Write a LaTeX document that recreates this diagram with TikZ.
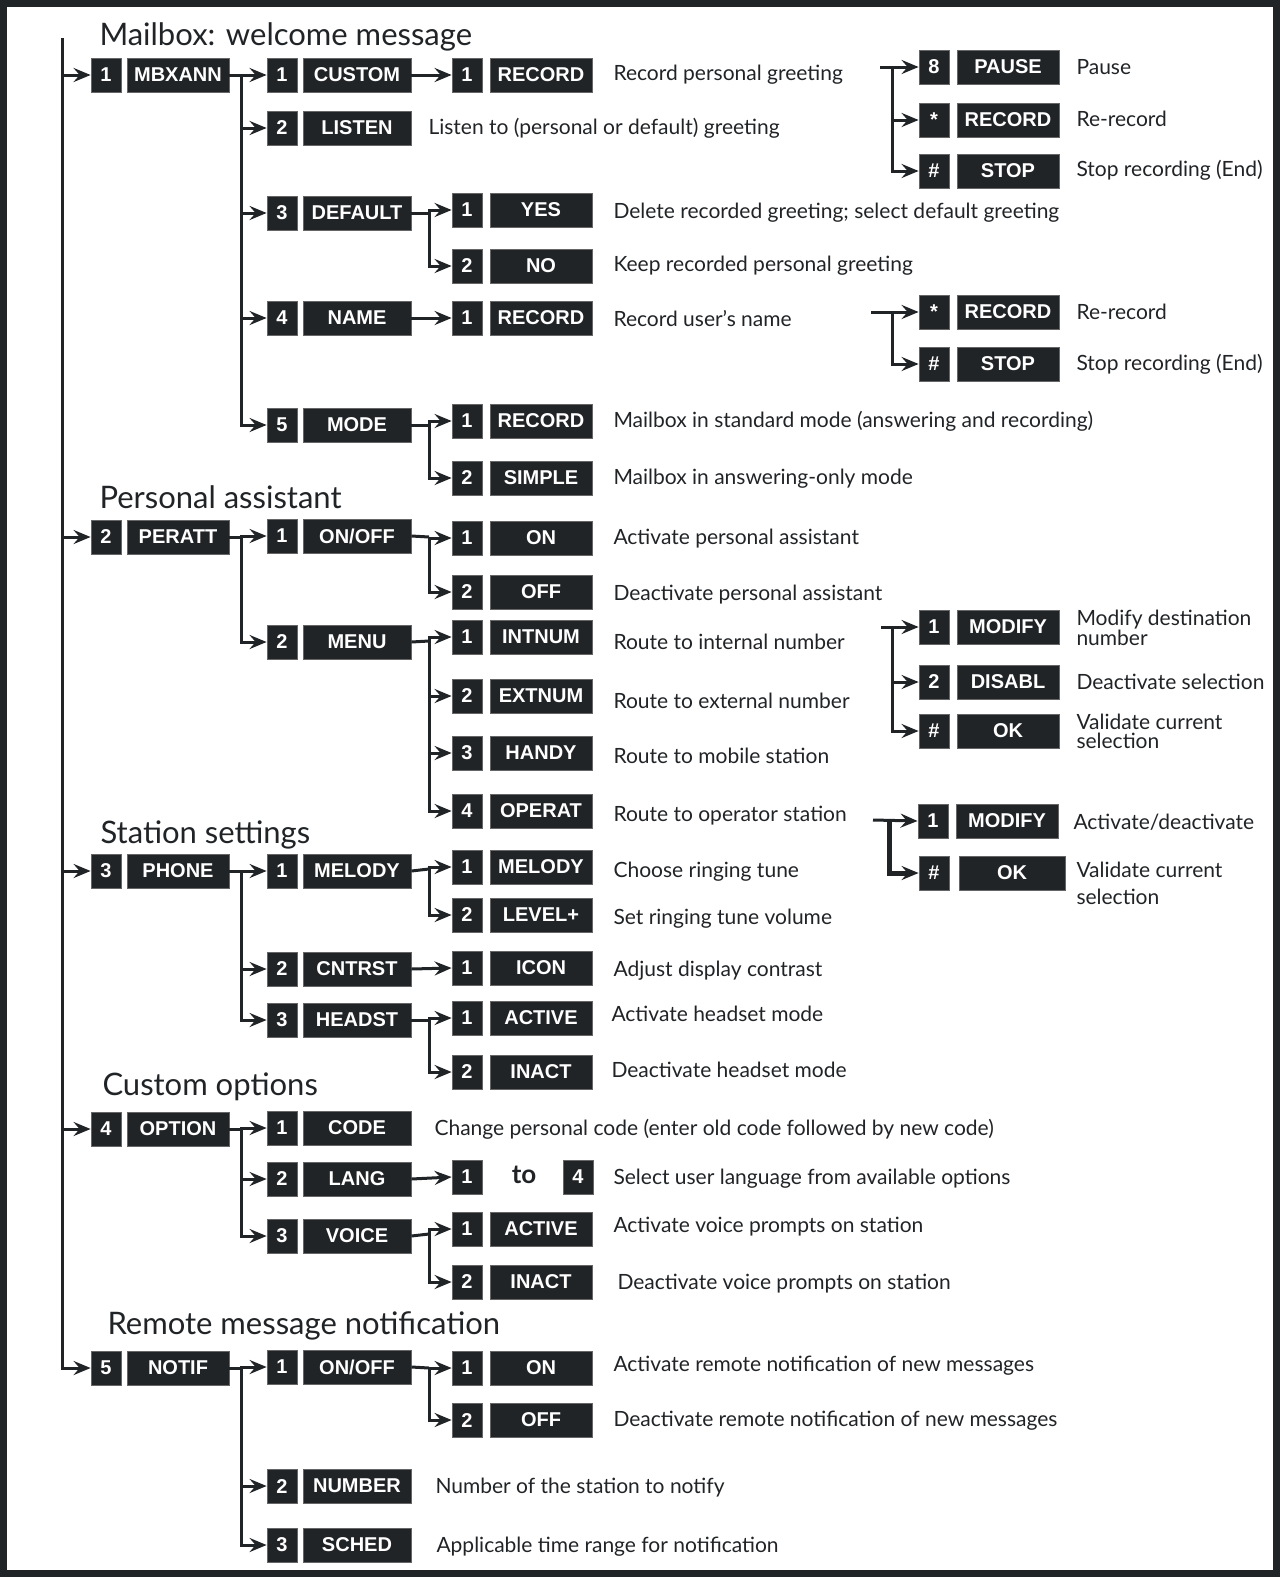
\documentclass[tikz,border=0pt]{standalone}
\usepackage{fontspec}
\setmainfont{Lato}
\newfontfamily\keyfont{Liberation Sans}
\usetikzlibrary{arrows.meta}
\definecolor{ink}{HTML}{212427}

\begin{document}
\begin{tikzpicture}[x=1pt, y=-1pt, line width=3pt, color=ink,
  >={Stealth[length=17pt,width=14pt,inset=6pt]},
  numbox/.style={fill=ink, draw=gray!80!black, line width=0.8pt, text=white,
    minimum width=30pt, minimum height=34pt, inner sep=0pt,
    font=\keyfont\bfseries\fontsize{20}{20}\selectfont},
  keybox/.style={numbox, minimum width=#1},
  keybox/.default=102pt,
  desc/.style={anchor=west, inner sep=0pt, align=left,
    font=\fontsize{21}{21}\selectfont},
  heading/.style={anchor=base west, inner sep=0pt,
    font=\fontsize{31}{31}\selectfont}]
  \useasboundingbox (0,0) rectangle (1280,1577);
  \fill[white] (0,0) rectangle (1280,1577);
  \draw[line width=7pt] (3.5,3.5) rectangle (1276.5,1573.5);

  % Headings
  \node[heading] (T1) at (98,45) {Mailbox: welcome message};
  \node[heading] (T2) at (98,508) {Personal assistant};
  \node[heading] (T3) at (99,843) {Station settings};
  \node[heading] (T4) at (101,1095) {Custom options};
  \node[heading] (T5) at (106,1334) {Remote message notification};

  % Nodes: Mailbox
  \node[numbox] (N1) at (106,75) {1};
  \node[keybox] (K1) at (178,75) {MBXANN};
  \node[numbox] (N11) at (282,75) {1};
  \node[keybox=108pt] (K11) at (357,75) {CUSTOM};
  \node[numbox] (N111) at (467,75) {1};
  \node[keybox] (K111) at (541,75) {RECORD};
  \node[numbox] (N12) at (282,128) {2};
  \node[keybox=108pt] (K12) at (357,128) {LISTEN};
  \node[numbox] (N13) at (282,213) {3};
  \node[keybox=108pt] (K13) at (357,213) {DEFAULT};
  \node[numbox] (N131) at (467,210) {1};
  \node[keybox] (K131) at (541,210) {YES};
  \node[numbox] (N132) at (467,266) {2};
  \node[keybox] (K132) at (541,266) {NO};
  \node[numbox] (N14) at (282,318) {4};
  \node[keybox=108pt] (K14) at (357,318) {NAME};
  \node[numbox] (N141) at (467,318) {1};
  \node[keybox] (K141) at (541,318) {RECORD};
  \node[numbox] (N15) at (282,425) {5};
  \node[keybox=108pt] (K15) at (357,425) {MODE};
  \node[numbox] (N151) at (467,421) {1};
  \node[keybox] (K151) at (541,421) {RECORD};
  \node[numbox] (N152) at (467,478) {2};
  \node[keybox] (K152) at (541,478) {SIMPLE};

  \node[numbox] (NA1) at (934,67) {8};
  \node[keybox] (KA1) at (1008,67) {PAUSE};
  \node[numbox] (NA2) at (934,120) {*};
  \node[keybox] (KA2) at (1008,120) {RECORD};
  \node[numbox] (NA3) at (934,171) {\#};
  \node[keybox] (KA3) at (1008,171) {STOP};
  \node[numbox] (NB1) at (934,312) {*};
  \node[keybox] (KB1) at (1008,312) {RECORD};
  \node[numbox] (NB2) at (934,364) {\#};
  \node[keybox] (KB2) at (1008,364) {STOP};

  \node[desc] (D111) at (612,75) {Record personal greeting};
  \node[desc] (D12) at (427,128) {Listen to (personal or default) greeting};
  \node[desc] (D131) at (612,213) {Delete recorded greeting; select default greeting};
  \node[desc] (D132) at (612,266) {Keep recorded personal greeting};
  \node[desc] (D141) at (612,319) {Record user's name};
  \node[desc] (D151) at (612,421) {Mailbox in standard mode (answering and recording)};
  \node[desc] (D152) at (612,479) {Mailbox in answering-only mode};
  \node[desc] (DA1) at (1075,67) {Pause};
  \node[desc] (DA2) at (1075,119) {Re-record};
  \node[desc] (DA3) at (1075,170) {Stop recording (End)};
  \node[desc] (DB1) at (1075,312) {Re-record};
  \node[desc] (DB2) at (1075,364) {Stop recording (End)};

  % Nodes: Personal assistant
  \node[numbox] (N2) at (106,537) {2};
  \node[keybox] (K2) at (178,537) {PERATT};
  \node[numbox] (N21) at (282,536) {1};
  \node[keybox=108pt] (K21) at (357,536) {ON/OFF};
  \node[numbox] (N211) at (467,538) {1};
  \node[keybox] (K211) at (541,538) {ON};
  \node[numbox] (N212) at (467,592) {2};
  \node[keybox] (K212) at (541,592) {OFF};
  \node[numbox] (N22) at (282,642) {2};
  \node[keybox=108pt] (K22) at (357,642) {MENU};
  \node[numbox] (N221) at (467,637) {1};
  \node[keybox] (K221) at (541,637) {INTNUM};
  \node[numbox] (N222) at (467,696) {2};
  \node[keybox] (K222) at (541,696) {EXTNUM};
  \node[numbox] (N223) at (467,753) {3};
  \node[keybox] (K223) at (541,753) {HANDY};
  \node[numbox] (N224) at (467,811) {4};
  \node[keybox] (K224) at (541,811) {OPERAT};

  \node[numbox] (NC1) at (934,627) {1};
  \node[keybox] (KC1) at (1008,627) {MODIFY};
  \node[numbox] (NC2) at (934,682) {2};
  \node[keybox] (KC2) at (1008,682) {DISABL};
  \node[numbox] (NC3) at (934,731) {\#};
  \node[keybox] (KC3) at (1008,731) {OK};
  \node[numbox] (ND1) at (933,821) {1};
  \node[keybox] (KD1) at (1007,821) {MODIFY};
  \node[numbox] (ND2) at (934,873) {\#};
  \node[keybox=106pt] (KD2) at (1012,873) {OK};

  \node[desc] (D211) at (612,539) {Activate personal assistant};
  \node[desc] (D212) at (612,595) {Deactivate personal assistant};
  \node[desc] (D221) at (612,642) {Route to internal number};
  \node[desc] (D222) at (612,701) {Route to external number};
  \node[desc] (D223) at (612,756) {Route to mobile station};
  \node[desc] (D224) at (612,816) {Route to operator station};
  \node[desc,font=\fontsize{21}{19}\selectfont] (DC1) at (1075,628) {Modify destination\\number};
  \node[desc] (DC2) at (1075,682) {Deactivate selection};
  \node[desc,font=\fontsize{21}{19}\selectfont] (DC3) at (1075,731) {Validate current\\selection};
  \node[desc] (DD1) at (1072,822) {Activate/deactivate};
  \node[desc,font=\fontsize{21}{27}\selectfont] (DD2) at (1075,883) {Validate current\\selection};

  % Nodes: Station settings
  \node[numbox] (N3) at (106,871) {3};
  \node[keybox] (K3) at (178,871) {PHONE};
  \node[numbox] (N31) at (282,871) {1};
  \node[keybox=108pt] (K31) at (357,871) {MELODY};
  \node[numbox] (N311) at (467,867) {1};
  \node[keybox] (K311) at (541,867) {MELODY};
  \node[numbox] (N312) at (467,915) {2};
  \node[keybox] (K312) at (541,915) {LEVEL+};
  \node[numbox] (N32) at (282,969) {2};
  \node[keybox=108pt] (K32) at (357,969) {CNTRST};
  \node[numbox] (N321) at (467,968) {1};
  \node[keybox] (K321) at (541,968) {ICON};
  \node[numbox] (N33) at (282,1020) {3};
  \node[keybox=108pt] (K33) at (357,1020) {HEADST};
  \node[numbox] (N331) at (467,1018) {1};
  \node[keybox] (K331) at (541,1018) {ACTIVE};
  \node[numbox] (N332) at (467,1072) {2};
  \node[keybox] (K332) at (541,1072) {INACT};

  \node[desc] (D311) at (612,872) {Choose ringing tune};
  \node[desc] (D312) at (612,919) {Set ringing tune volume};
  \node[desc] (D321) at (612,971) {Adjust display contrast};
  \node[desc] (D331) at (610,1014) {Activate headset mode};
  \node[desc] (D332) at (610,1070) {Deactivate headset mode};

  % Nodes: Custom options
  \node[numbox] (N4) at (106,1129) {4};
  \node[keybox] (K4) at (178,1129) {OPTION};
  \node[numbox] (N41) at (282,1128) {1};
  \node[keybox=108pt] (K41) at (357,1128) {CODE};
  \node[numbox] (N42) at (282,1179) {2};
  \node[keybox=108pt] (K42) at (357,1179) {LANG};
  \node[numbox] (N421) at (467,1177) {1};
  \node[font=\bfseries\fontsize{26}{26}\selectfont] (TO) at (524,1175) {to};
  \node[numbox] (N424) at (578,1177) {4};
  \node[numbox] (N43) at (282,1236) {3};
  \node[keybox=108pt] (K43) at (357,1236) {VOICE};
  \node[numbox] (N431) at (467,1229) {1};
  \node[keybox] (K431) at (541,1229) {ACTIVE};
  \node[numbox] (N432) at (467,1282) {2};
  \node[keybox] (K432) at (541,1282) {INACT};

  \node[desc] (D41) at (433,1129) {Change personal code (enter old code followed by new code)};
  \node[desc] (D421) at (612,1179) {Select user language from available options};
  \node[desc] (D431) at (612,1227) {Activate voice prompts on station};
  \node[desc] (D432) at (616,1284) {Deactivate voice prompts on station};

  % Nodes: Remote message notification
  \node[numbox] (N5) at (106,1368) {5};
  \node[keybox] (K5) at (178,1368) {NOTIF};
  \node[numbox] (N51) at (282,1367) {1};
  \node[keybox=108pt] (K51) at (357,1367) {ON/OFF};
  \node[numbox] (N511) at (467,1368) {1};
  \node[keybox] (K511) at (541,1368) {ON};
  \node[numbox] (N512) at (467,1420) {2};
  \node[keybox] (K512) at (541,1420) {OFF};
  \node[numbox] (N52) at (282,1486) {2};
  \node[keybox=108pt] (K52) at (357,1486) {NUMBER};
  \node[numbox] (N53) at (282,1545) {3};
  \node[keybox=108pt] (K53) at (357,1545) {SCHED};

  \node[desc] (D511) at (612,1366) {Activate remote notification of new messages};
  \node[desc] (D512) at (612,1421) {Deactivate remote notification of new messages};
  \node[desc] (D52) at (434,1488) {Number of the station to notify};
  \node[desc] (D53) at (435,1547) {Applicable time range for notification};

  % Branch points
  \coordinate (M0) at (62,38);
  \coordinate (B1) at (241,75);
  \coordinate (B13) at (429,213);
  \coordinate (B15) at (429,425);
  \coordinate (B2) at (241,537);
  \coordinate (B21) at (429,537);
  \coordinate (B22) at (429,641);
  \coordinate (B3) at (241,871);
  \coordinate (B31) at (429,869);
  \coordinate (B33) at (429,1020);
  \coordinate (B4) at (241,1129);
  \coordinate (B43) at (429,1234);
  \coordinate (B5) at (241,1368);
  \coordinate (B51) at (429,1368);
  \coordinate (GA0) at (880,67);
  \coordinate (GA) at (892,67);
  \coordinate (GB0) at (871,312);
  \coordinate (GB) at (892,312);
  \coordinate (GC0) at (881,627);
  \coordinate (GC) at (892,627);
  \coordinate (GD0) at (873,820);
  \coordinate (GD) at (889,820);

  % Edges: main line
  \draw[->] (M0) |- (N1.west);
  \draw[->] (M0) |- (N2.west);
  \draw[->] (M0) |- (N3.west);
  \draw[->] (M0) |- (N4.west);
  \draw[->] (M0) |- (N5.west);

  % Edges: Mailbox
  \draw (K1.east) -- (B1);
  \draw[->] (B1) -- (N11.west);
  \draw[->] (B1) |- (N12.west);
  \draw[->] (B1) |- (N13.west);
  \draw[->] (B1) |- (N14.west);
  \draw[->] (B1) |- (N15.west);
  \draw[->] (K11.east) -- (N111.west);
  \draw (K13.east) -- (B13);
  \draw[->] (B13) |- (N131.west);
  \draw[->] (B13) |- (N132.west);
  \draw[->] (K14.east) -- (N141.west);
  \draw (K15.east) -- (B15);
  \draw[->] (B15) |- (N151.west);
  \draw[->] (B15) |- (N152.west);
  \draw[->] (GA0) -- (NA1.west);
  \draw[->] (GA) |- (NA2.west);
  \draw[->] (GA) |- (NA3.west);
  \draw[->] (GB0) -- (NB1.west);
  \draw[->] (GB) |- (NB2.west);

  % Edges: Personal assistant
  \draw (K2.east) -- (B2);
  \draw[->] (B2) |- (N21.west);
  \draw[->] (B2) |- (N22.west);
  \draw (K21.east) -- (B21);
  \draw[->] (B21) |- (N211.west);
  \draw[->] (B21) |- (N212.west);
  \draw (K22.east) -- (B22);
  \draw[->] (B22) |- (N221.west);
  \draw[->] (B22) |- (N222.west);
  \draw[->] (B22) |- (N223.west);
  \draw[->] (B22) |- (N224.west);
  \draw[->] (GC0) -- (NC1.west);
  \draw[->] (GC) |- (NC2.west);
  \draw[->] (GC) |- (NC3.west);
  \draw[->] (GD0) -- (ND1.west);
  \draw[->,line width=5pt] (GD) |- (ND2.west);

  % Edges: Station settings
  \draw (K3.east) -- (B3);
  \draw[->] (B3) |- (N31.west);
  \draw[->] (B3) |- (N32.west);
  \draw[->] (B3) |- (N33.west);
  \draw (K31.east) -- (B31);
  \draw[->] (B31) |- (N311.west);
  \draw[->] (B31) |- (N312.west);
  \draw[->] (K32.east) -- (N321.west);
  \draw (K33.east) -- (B33);
  \draw[->] (B33) |- (N331.west);
  \draw[->] (B33) |- (N332.west);

  % Edges: Custom options
  \draw (K4.east) -- (B4);
  \draw[->] (B4) |- (N41.west);
  \draw[->] (B4) |- (N42.west);
  \draw[->] (B4) |- (N43.west);
  \draw[->] (K42.east) -- (N421.west);
  \draw (K43.east) -- (B43);
  \draw[->] (B43) |- (N431.west);
  \draw[->] (B43) |- (N432.west);

  % Edges: Remote message notification
  \draw (K5.east) -- (B5);
  \draw[->] (B5) |- (N51.west);
  \draw[->] (B5) |- (N52.west);
  \draw[->] (B5) |- (N53.west);
  \draw (K51.east) -- (B51);
  \draw[->] (B51) |- (N511.west);
  \draw[->] (B51) |- (N512.west);
\end{tikzpicture}
\end{document}
